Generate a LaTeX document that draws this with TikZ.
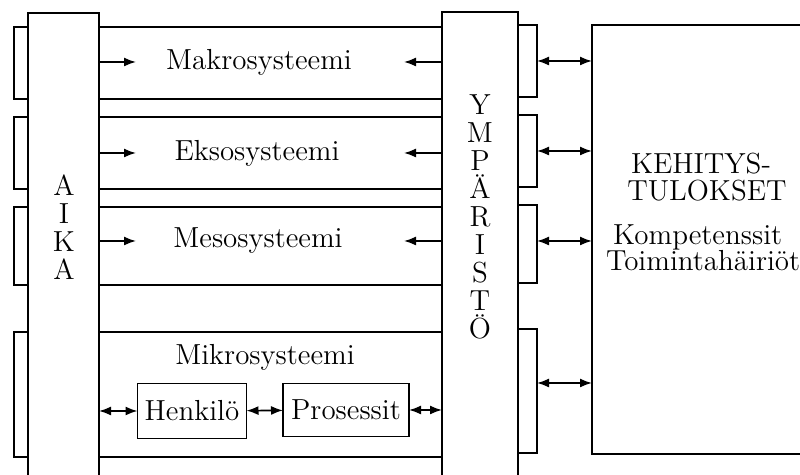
\documentclass[tikz,border=0pt]{standalone}
\usetikzlibrary{arrows.meta}
\tikzset{
  col/.style={draw, line width=1.1pt, inner sep=0pt, outer sep=0pt},
  lbl/.style={font=\fontsize{14.5}{17}\selectfont},
  sbox/.style={draw, line width=0.9pt, inner sep=0pt, outer sep=0pt, font=\fontsize{14.5}{17}\selectfont},
  arr/.style={-{Latex[length=6pt,width=4.5pt]}, line width=0.8pt},
  darr/.style={{Latex[length=6pt,width=4.5pt]}-{Latex[length=6pt,width=4.5pt]}, line width=0.8pt},
}
\begin{document}
\begin{tikzpicture}[x=0.5pt,y=-0.5pt,line width=1.1pt]
    \useasboundingbox (0,0) rectangle (800,475);

    % Columns and the result box
    \node[col, minimum width=35.5pt, minimum height=238.5pt] (aika) at (63.5,251.5) {};
    \node[col, minimum width=38pt, minimum height=239pt] (ymp) at (480,251) {};
    \node[col, minimum width=110pt, minimum height=214.5pt] (res) at (702,239.5) {};

    % Column letters
    \node[lbl, align=center, font=\fontsize{14.5}{14}\selectfont] (aikatxt) at (64,227) {A\\I\\K\\A};
    \node[lbl, align=center, font=\fontsize{14.5}{14}\selectfont] (ymptxt) at (480,217) {Y\\M\\P\\Ä\\R\\I\\S\\T\\Ö};

    % Tabs
    \foreach \a/\b in {27/99,117/189,207/285,332/457}
        \draw (14,\a) rectangle (28,\b);
    \foreach \a/\b in {25/97,115/187,205/283,329/453}
        \draw (518,\a) rectangle (537,\b);

    % Bands
    \foreach \y in {27,99,117,189,207,285,332,457}
        \draw (99,\y) -- (442,\y);

    % Systems
    \foreach \n/\x/\y/\t in {mak/259/62/Makrosysteemi, eks/257/153/Eksosysteemi, mes/258/241/Mesosysteemi}{
        \node[lbl] (\n) at (\x,\y) {\t};
        \coordinate (\n-a) at (136,\y);
        \coordinate (\n-b) at (404,\y);
        \draw[arr] (aika.east |- \n-a) -- (\n-a);
        \draw[arr] (ymp.west |- \n-b) -- (\n-b);
    }

    % Microsystem
    \node[lbl] (mik) at (265,357) {Mikrosysteemi};
    \node[sbox, minimum width=54.5pt, minimum height=27.5pt] (henk) at (192,411) {Henkilö};
    \node[sbox, minimum width=63pt, minimum height=26.5pt] (pros) at (346,410) {Prosessit};
    \draw[darr] (aika.east |- henk) -- (henk.west);
    \draw[darr] (henk) -- (pros);
    \draw[darr] (pros.east) -- (ymp.west |- pros);

    % Arrows to the results
    \foreach \i/\y in {1/61,2/151,3/241,4/383}{
        \coordinate (tab\i) at (537,\y);
        \draw[darr] (tab\i) -- (res.west |- tab\i);
    }

    % Results
    \node[lbl, inner sep=0pt] (keh1) at (701,164) {KEHITYS-};
    \node[lbl, inner sep=0pt] (keh2) at (707,191) {TULOKSET};
    \node[lbl, anchor=west, inner sep=0pt] (komp) at (612,237) {Kompetenssit};
    \node[lbl, anchor=west, inner sep=0pt] (toim) at (605,261) {Toimintahäiriöt};

\end{tikzpicture}
\end{document}
